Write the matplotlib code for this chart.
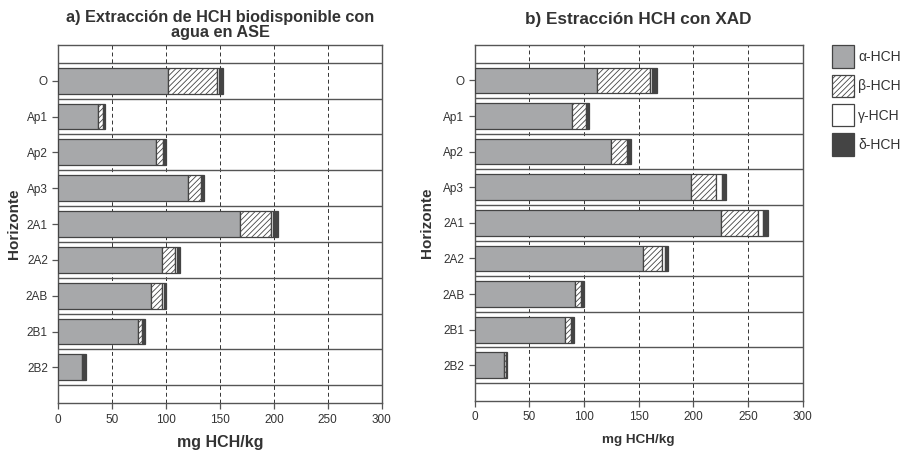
import numpy as np
import matplotlib.pyplot as plt
from matplotlib.patches import Patch

plt.rcParams['font.family'] = ['Liberation Sans', 'DejaVu Sans']
plt.rcParams['hatch.linewidth'] = 0.6
plt.rcParams['hatch.color'] = '#222222'

# horizons (top to bottom)
horizons = ['O', 'Ap1', 'Ap2', 'Ap3', '2A1', '2A2', '2AB', '2B1', '2B2']
x_ticks = [0, 50, 100, 150, 200, 250, 300]

# a) water extraction (ASE), mg HCH/kg
ase_alpha = [102, 37, 91, 120, 169, 96, 86, 74, 22]
ase_beta = [45, 4.5, 6, 12, 28, 12.5, 10, 4, 1]
ase_gamma = [2, 0.5, 1.5, 1.5, 2.5, 2, 1.8, 0.6, 0.3]
ase_delta = [4, 1.3, 1.5, 2, 4.5, 2.2, 2, 2, 2]

# b) XAD extraction, mg HCH/kg
xad_alpha = [112, 89, 125, 198, 225, 154, 91.5, 82.5, 27]
xad_beta = [48, 13, 14, 23, 34, 17, 5.5, 6, 1.3]
xad_gamma = [2.5, 1, 1.5, 5, 5, 3, 1, 1, 0.4]
xad_delta = [4, 2, 2.7, 3.5, 4.3, 2.7, 2, 1.2, 1.2]

# legend / series styles
series = ['α-HCH', 'β-HCH', 'γ-HCH', 'δ-HCH']
fills = ['#a7a8aa', 'white', 'white', '#444444']
hatches = [None, '//////', None, None]
edge = '#444444'

fig = plt.figure(figsize=(9.11, 4.53), dpi=100)
ax1 = fig.add_axes([0.064, 0.110, 0.355, 0.791])
ax2 = fig.add_axes([0.521, 0.115, 0.360, 0.786])

y = np.arange(len(horizons))


def draw(ax, parts):
    left = np.zeros(len(horizons))
    for vals, fc, h in zip(parts, fills, hatches):
        ax.barh(y, vals, left=left, height=0.72, color=fc, hatch=h,
                edgecolor=edge, linewidth=0.9, zorder=3)
        left = left + np.array(vals)
    ax.set_xlim(0, 300)
    ax.set_ylim(9, -1)
    ax.set_yticks(y)
    ax.set_yticklabels(horizons)
    ax.set_xticks(x_ticks)
    for xv in x_ticks[1:-1]:
        ax.axvline(xv, color='#333333', ls=(0, (4, 3)), lw=0.7, zorder=1)
    for yv in np.arange(-0.5, 9, 1):
        ax.axhline(yv, color='#555555', lw=1.0, zorder=2)
    for s in ax.spines.values():
        s.set_color('#555555')
        s.set_linewidth(1.0)
    ax.tick_params(colors='#555555', labelcolor='#333333', labelsize=8.5,
                   length=4, width=0.9)


draw(ax1, [ase_alpha, ase_beta, ase_gamma, ase_delta])
draw(ax2, [xad_alpha, xad_beta, xad_gamma, xad_delta])

ax1.set_title('a) Extracción de HCH biodisponible con\nagua en ASE',
              fontsize=11.7, fontweight='bold', color='#333333', linespacing=1.0, pad=6)
ax2.set_title('b) Estracción HCH con XAD', fontsize=12.3, fontweight='bold',
              color='#333333', pad=15)
ax1.set_xlabel('mg HCH/kg', fontsize=11.5, fontweight='bold', color='#333333', labelpad=7)
ax2.set_xlabel('mg HCH/kg', fontsize=9.7, fontweight='bold', color='#333333', labelpad=8)
ax1.set_ylabel('Horizonte', fontsize=11, fontweight='bold', color='#333333', labelpad=3)
ax2.set_ylabel('Horizonte', fontsize=11, fontweight='bold', color='#333333', labelpad=6)

handles = [Patch(facecolor=fc, edgecolor=edge, hatch=h, linewidth=0.9)
           for fc, h in zip(fills, hatches)]
fig.legend(handles, series, loc='upper left', bbox_to_anchor=(0.906, 0.915),
           frameon=False, handlelength=1.55, handleheight=2.1, labelspacing=0.5,
           handletextpad=0.3, fontsize=10, labelcolor='#333333', borderpad=0)

fig.savefig('out.png', dpi=100)
